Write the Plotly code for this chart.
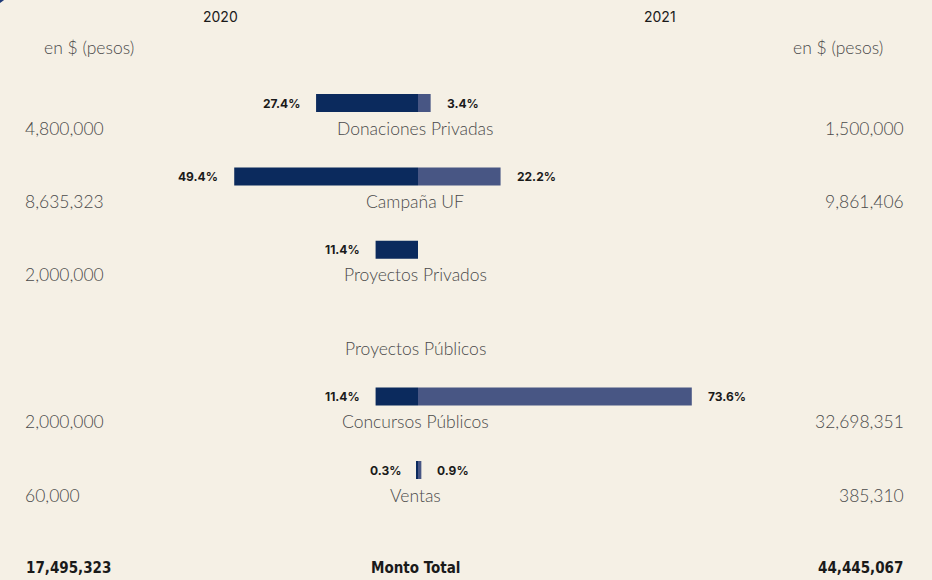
import plotly.graph_objects as go

categories = ["Donaciones Privadas", "Campaña UF", "Proyectos Privados",
              "Proyectos Públicos", "Concursos Públicos", "Ventas"]
pct_2020 = [27.4, 49.4, 11.4, None, 11.4, 0.3]
pct_2021 = [3.4, 22.2, None, None, 73.6, 0.9]
pct_2020_labels = ["27.4%", "49.4%", "11.4%", "", "11.4%", "0.3%"]
pct_2021_labels = ["3.4%", "22.2%", "", "", "73.6%", "0.9%"]
monto_2020 = ["4,800,000", "8,635,323", "2,000,000", "", "2,000,000", "60,000"]
monto_2021 = ["1,500,000", "9,861,406", "", "", "32,698,351", "385,310"]
total_label = "Monto Total"
total_2020 = "17,495,323"
total_2021 = "44,445,067"
years = ["2020", "2021"]
unit_label = "en $ (pesos)"

W, H = 932, 580
BG = "#f5f0e5"
NAVY = "#0b2a5d"
SLATE = "#485684"
TXT = "#4a4a4a"

PX_PER_PCT = 3.72
CENTER_PX = 418
xmin = -CENTER_PX / PX_PER_PCT
xmax = (W - CENTER_PX) / PX_PER_PCT

ROW = 73.4
FIRST_BAR = 103
ytop = -FIRST_BAR / ROW
ybot = (H - FIRST_BAR) / ROW
LABEL_OFF = 25 / ROW

idx = list(range(len(categories)))

fig = go.Figure()
fig.add_trace(go.Bar(
    y=idx, x=[-v if v is not None else None for v in pct_2020],
    orientation="h", marker=dict(color=NAVY, line=dict(width=0)),
    width=18 / ROW, hoverinfo="skip", showlegend=False))
fig.add_trace(go.Bar(
    y=idx, x=pct_2021,
    orientation="h", marker=dict(color=SLATE, line=dict(width=0)),
    width=18 / ROW, hoverinfo="skip", showlegend=False))

ann = []
body_font = dict(family="Lato", size=17.5, color=TXT, weight=300)
pct_font = dict(family="Inter", size=12, color="#1a1a1a", weight=700)

for i, cat in enumerate(categories):
    ylab = i + LABEL_OFF
    ann.append(dict(x=0, y=ylab, xref="x", yref="y", text=cat, showarrow=False,
                    xanchor="center", yanchor="middle", xshift=-3, font=body_font))
    if monto_2020[i]:
        ann.append(dict(x=23 / W, y=ylab, xref="paper", yref="y", text=monto_2020[i],
                        showarrow=False, xanchor="left", yanchor="middle", font=body_font))
    if monto_2021[i]:
        ann.append(dict(x=906 / W, y=ylab, xref="paper", yref="y", text=monto_2021[i],
                        showarrow=False, xanchor="right", yanchor="middle", font=body_font))
    if pct_2020[i] is not None:
        ann.append(dict(x=-pct_2020[i], y=i, xref="x", yref="y", text=pct_2020_labels[i],
                        showarrow=False, xanchor="right", yanchor="middle", xshift=-14,
                        font=pct_font))
    if pct_2021[i] is not None:
        ann.append(dict(x=pct_2021[i], y=i, xref="x", yref="y", text=pct_2021_labels[i],
                        showarrow=False, xanchor="left", yanchor="middle", xshift=14,
                        font=pct_font))

ytot = len(categories) + LABEL_OFF
tot_font = dict(family="DejaVu Sans Condensed", size=15, color="#1a1a1a", weight=700)
ann.append(dict(x=0, y=ytot, xref="x", yref="y", text=total_label, showarrow=False,
                xanchor="center", yanchor="middle", xshift=-3, font=tot_font))
ann.append(dict(x=24 / W, y=ytot, xref="paper", yref="y", text=total_2020, showarrow=False,
                xanchor="left", yanchor="middle", font=tot_font))
ann.append(dict(x=905 / W, y=ytot, xref="paper", yref="y", text=total_2021, showarrow=False,
                xanchor="right", yanchor="middle", font=tot_font))

head_font = dict(family="Inter", size=14, color="#1a1a1a", weight=400)
ann.append(dict(x=220 / W, y=1 - 16 / H, xref="paper", yref="paper", text=years[0],
                showarrow=False, xanchor="center", yanchor="middle", font=head_font))
ann.append(dict(x=660 / W, y=1 - 16 / H, xref="paper", yref="paper", text=years[1],
                showarrow=False, xanchor="center", yanchor="middle", font=head_font))
ann.append(dict(x=89 / W, y=1 - 48 / H, xref="paper", yref="paper", text=unit_label,
                showarrow=False, xanchor="center", yanchor="middle", font=body_font))
ann.append(dict(x=838 / W, y=1 - 48 / H, xref="paper", yref="paper", text=unit_label,
                showarrow=False, xanchor="center", yanchor="middle", font=body_font))

fig.update_layout(
    width=W, height=H,
    margin=dict(l=0, r=0, t=0, b=0),
    paper_bgcolor=BG, plot_bgcolor=BG,
    barmode="overlay",
    xaxis=dict(range=[xmin, xmax], visible=False, fixedrange=True),
    yaxis=dict(range=[ybot, ytop], visible=False, fixedrange=True),
    annotations=ann,
    shapes=[dict(type="circle", xref="paper", yref="paper",
                 x0=-50 / W, x1=14 / W, y0=1 - 8 / H, y1=1 + 50 / H,
                 fillcolor="#1e3a78", line=dict(width=0), layer="above")],
)

fig.write_html("out.html", config={"displayModeBar": False},
               post_script="document.body.style.margin='0';document.body.style.background='%s';" % BG)
